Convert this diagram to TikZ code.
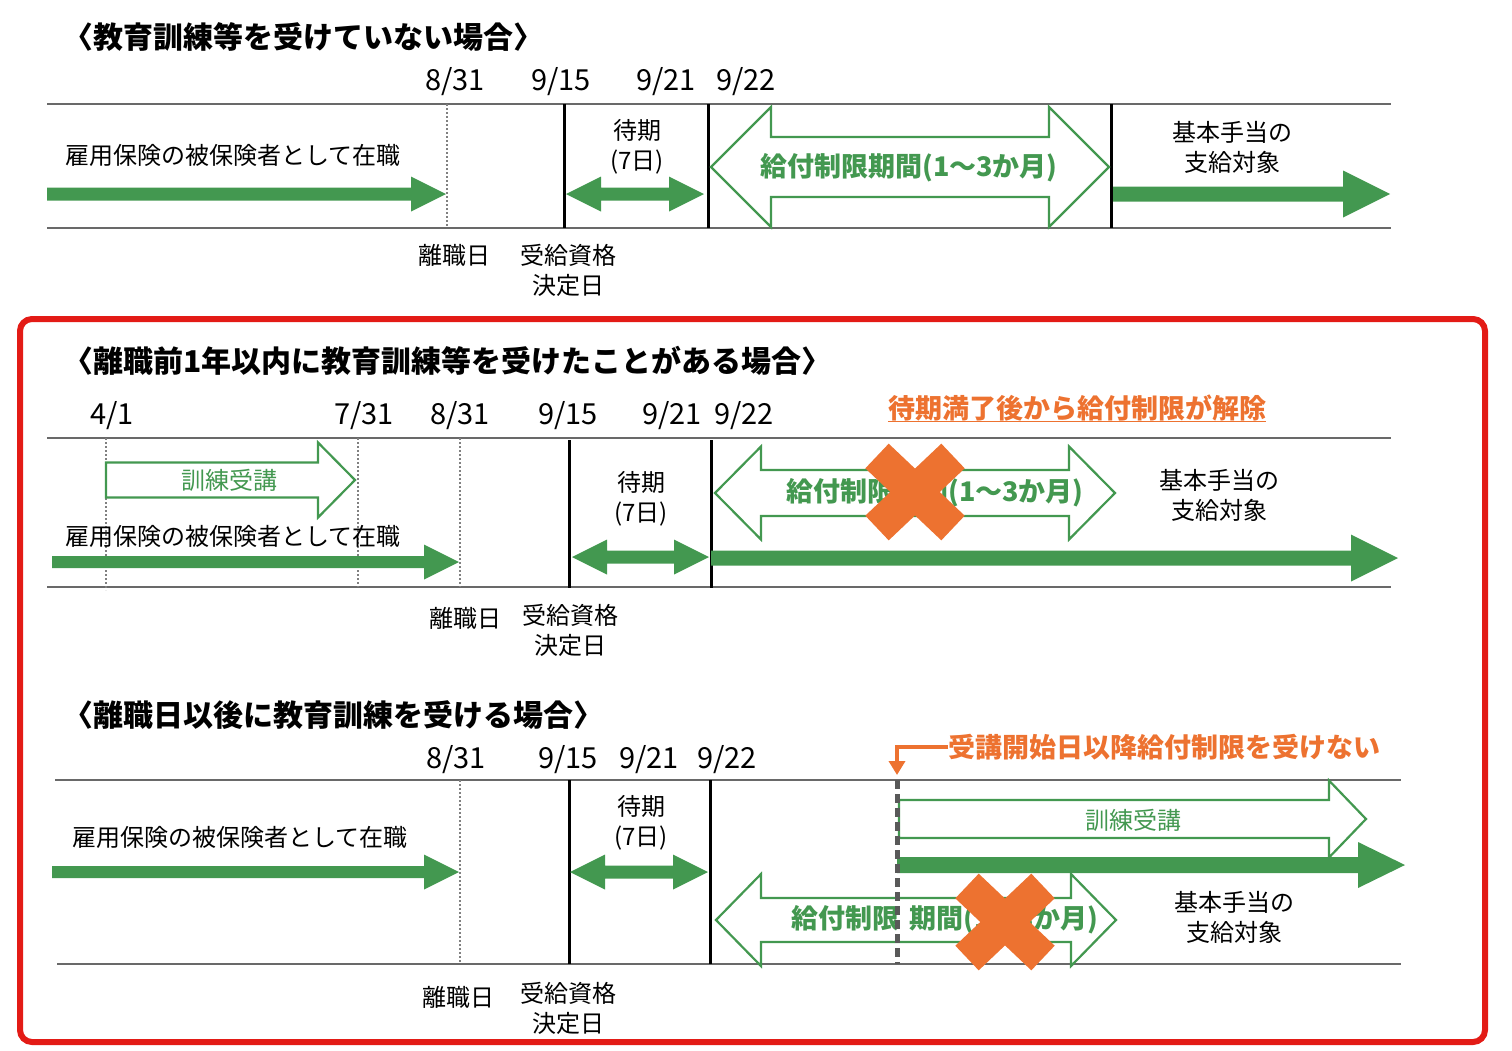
\documentclass[tikz,border=0pt]{standalone}
\usepackage{fontspec}
\setmainfont{Noto Sans CJK JP}
\usetikzlibrary{arrows.meta}

\definecolor{jgreen}{RGB}{67,152,80}
\definecolor{jorange}{RGB}{237,114,48}
\definecolor{jred}{RGB}{227,27,22}
\definecolor{axisgray}{RGB}{105,105,105}

% block arrows: x1, x2, y, shaft half, head half, head length
\newcommand{\fatarrow}[6]{%
  \fill[jgreen] (#1,#3-#4) -- (#2-#6,#3-#4) -- (#2-#6,#3-#5) -- (#2,#3) -- (#2-#6,#3+#5) -- (#2-#6,#3+#4) -- (#1,#3+#4) -- cycle;}
\newcommand{\fatdouble}[6]{%
  \fill[jgreen] (#1,#3) -- (#1+#6,#3-#5) -- (#1+#6,#3-#4) -- (#2-#6,#3-#4) -- (#2-#6,#3-#5) -- (#2,#3) -- (#2-#6,#3+#5) -- (#2-#6,#3+#4) -- (#1+#6,#3+#4) -- (#1+#6,#3+#5) -- cycle;}
\newcommand{\hollowsingle}[6]{%
  \draw[hollow] (#1,#3-#4) -- (#2-#6,#3-#4) -- (#2-#6,#3-#5) -- (#2,#3) -- (#2-#6,#3+#5) -- (#2-#6,#3+#4) -- (#1,#3+#4) -- cycle;}
\newcommand{\hollowdouble}[6]{%
  \draw[hollow] (#1,#3) -- (#1+#6,#3-#5) -- (#1+#6,#3-#4) -- (#2-#6,#3-#4) -- (#2-#6,#3-#5) -- (#2,#3) -- (#2-#6,#3+#5) -- (#2-#6,#3+#4) -- (#1+#6,#3+#4) -- (#1+#6,#3+#5) -- cycle;}
% orange cross: centre x, centre y
\newcommand{\crossout}[2]{%
  \draw[jorange, line width=34pt] (#1-38,#2-36) -- (#1+38,#2+36);
  \draw[jorange, line width=34pt] (#1+38,#2-36) -- (#1-38,#2+36);}

\tikzset{
  lbl/.style={font=\fontsize{24}{30}\selectfont, align=center, inner sep=0pt},
  datelbl/.style={font=\fontsize{29}{32}\selectfont, inner sep=0pt},
  ttl/.style={font=\bfseries\fontsize{30}{34}\selectfont, anchor=west, inner sep=0pt},
  period/.style={font=\bfseries\fontsize{27}{30}\selectfont, text=jgreen, inner sep=0pt},
  trainlbl/.style={font=\fontsize{24}{30}\selectfont, text=jgreen, inner sep=0pt},
  notelbl/.style={font=\bfseries\fontsize{27}{30}\selectfont, text=jorange, inner sep=0pt},
  axisline/.style={draw=axisgray, line width=1.6pt},
  daymark/.style={draw=black, line width=3pt},
  dotmark/.style={draw=gray, line width=1.2pt, dash pattern=on 2pt off 2pt},
  dashmark/.style={draw=black!65, line width=5pt, dash pattern=on 9pt off 5pt},
  hollow/.style={draw=jgreen, line width=2.2pt, fill=white, line join=miter},
}

\begin{document}
\begin{tikzpicture}[x=1pt,y=-1pt]
\useasboundingbox (0,0) rectangle (1512,1050);

% frame round the two training cases
\draw[jred, line width=6pt, rounded corners=12pt] (20,319) rectangle (1485,1042);

% case 1: no training
\node[ttl] (ttlA) at (63,37) {〈教育訓練等を受けていない場合〉};
\node[datelbl] (aD1) at (455,82) {8/31};
\node[datelbl] (aD2) at (561,82) {9/15};
\node[datelbl] (aD3) at (666,82) {9/21};
\node[datelbl] (aD4) at (746,82) {9/22};
\draw[axisline] (47,104) -- (1391,104);
\draw[axisline] (47,228) -- (1391,228);
\draw[dotmark] (447,104) -- (447,228);
\draw[daymark] (564,104) -- (564,228);
\draw[daymark] (708,104) -- (708,228);
\draw[daymark] (1111,104) -- (1111,228);
\node[lbl] (aWork) at (233,155) {雇用保険の被保険者として在職};
\fatarrow{47}{446}{194}{6.5}{17.5}{35}
\node[lbl] (aWait) at (637,147) {待期\\(7日)};
\fatdouble{566}{704}{194}{6.5}{17.5}{35}
\hollowdouble{711}{1109}{167}{30}{60}{60}
\node[period] (aLimit) at (909,168) {給付制限期間(1〜3か月)};
\node[lbl] (aPay) at (1232,147) {基本手当の\\支給対象};
\fatarrow{1113}{1390}{194}{7.5}{23.5}{47}
\node[lbl] (aLeave) at (454,255) {離職日};
\node[lbl] (aDecide) at (568,270) {受給資格\\決定日};

% case 2: training within a year before leaving
\node[ttl] (ttlB) at (63,361) {〈離職前1年以内に教育訓練等を受けたことがある場合〉};
\node[datelbl] (bD0) at (112,416) {4/1};
\node[datelbl] (bD1) at (364,416) {7/31};
\node[datelbl] (bD2) at (460,416) {8/31};
\node[datelbl] (bD3) at (568,416) {9/15};
\node[datelbl] (bD4) at (672,416) {9/21};
\node[datelbl] (bD5) at (744,416) {9/22};
\node[notelbl] (noteB) at (1077,408) {待期満了後から給付制限が解除};
\draw[jorange, line width=1.8pt] (noteB.south west) -- (noteB.south east);
\draw[axisline] (47,438) -- (1391,438);
\draw[axisline] (47,587) -- (1391,587);
\draw[dotmark] (106,438) -- (106,590);
\draw[dotmark] (358,438) -- (358,587);
\draw[dotmark] (460,438) -- (460,587);
\hollowsingle{106}{355}{480}{17.5}{37.5}{37}
\node[trainlbl] (bTrain) at (229,480) {訓練受講};
\node[lbl] (bWork) at (233,536) {雇用保険の被保険者として在職};
\fatarrow{52}{459}{562}{6}{17.5}{35}
\draw[daymark] (569,440) -- (569,588);
\draw[daymark] (711,440) -- (711,588);
\node[lbl] (bWait) at (641,499) {待期\\(7日)};
\fatdouble{572}{709}{557}{6.5}{17.5}{35}
\hollowdouble{715}{1115}{493}{23}{46.5}{46}
\node[period] (bLimit) at (935,493) {給付制限期間(1〜3か月)};
\crossout{915}{492}
\node[lbl] (bPay) at (1219,495) {基本手当の\\支給対象};
\fatarrow{711}{1398}{558}{7.5}{23.5}{47}
\node[lbl] (bLeave) at (465,618) {離職日};
\node[lbl] (bDecide) at (570,630) {受給資格\\決定日};

% case 3: training after leaving
\node[ttl] (ttlC) at (63,715) {〈離職日以後に教育訓練を受ける場合〉};
\node[datelbl] (cD1) at (456,760) {8/31};
\node[datelbl] (cD2) at (568,760) {9/15};
\node[datelbl] (cD3) at (649,760) {9/21};
\node[datelbl] (cD4) at (727,760) {9/22};
\node[notelbl, anchor=west] (noteC) at (948,747) {受講開始日以降給付制限を受けない};
\coordinate (tipC) at (897,775);
\draw[jorange, line width=4pt, -{Triangle[width=16pt,length=14pt]}] (noteC.west) -| (tipC);
\draw[axisline] (55,780) -- (1401,780);
\draw[axisline] (57,964) -- (1401,964);
\draw[dotmark] (460,780) -- (460,962);
\draw[daymark] (569,780) -- (569,964);
\draw[daymark] (710,780) -- (710,964);
\node[lbl] (cWork) at (240,837) {雇用保険の被保険者として在職};
\fatarrow{52}{459}{872}{6}{17.5}{35}
\node[lbl] (cWait) at (641,823) {待期\\(7日)};
\fatdouble{570}{708}{872}{6.5}{17.5}{35}
\hollowsingle{899}{1366}{819}{19}{38.5}{37}
\node[trainlbl] (cTrain) at (1133,820) {訓練受講};
\fatarrow{897}{1405}{865}{8}{23}{47}
\hollowdouble{716}{1116}{920}{22}{46}{45}
\node[period] (cLimit) at (945,920) {給付制限\hspace{10pt}期間(1〜3か月)};
\crossout{1005}{922}
\node[lbl] (cPay) at (1234,917) {基本手当の\\支給対象};
\draw[dashmark] (897,780) -- (897,964);
\node[lbl] (cLeave) at (458,997) {離職日};
\node[lbl] (cDecide) at (568,1008) {受給資格\\決定日};
\end{tikzpicture}
\end{document}
